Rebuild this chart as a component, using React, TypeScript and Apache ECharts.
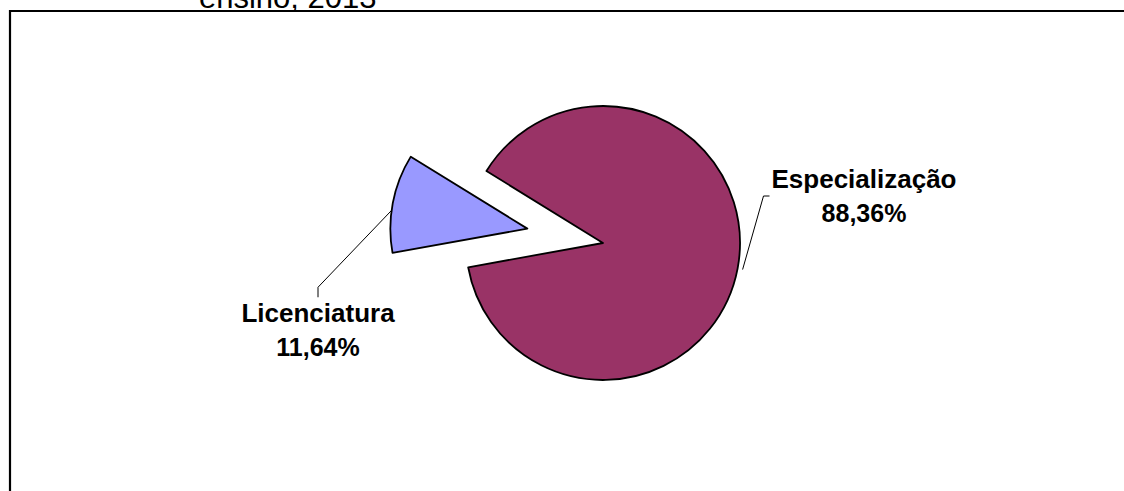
import React, { useEffect, useRef } from "react";
import * as echarts from "echarts";

const categories = ["Especialização", "Licenciatura"];
const values = [88.36, 11.64];
const sliceColors = ["#993366", "#9999FF"];
const titleText = "ensino, 2013";

export default function App() {
  const ref = useRef<HTMLDivElement>(null);

  useEffect(() => {
    const chart = echarts.init(ref.current!, null, { renderer: "svg" });
    const center = [603, 243];
    const radius = 137;
    const startAngle = 148.3;
    const explode = 77;
    const total = values.reduce((a, b) => a + b, 0);
    const licSpan = (values[1] / total) * 360;
    const licMid = ((startAngle + licSpan / 2) * Math.PI) / 180;
    const centerB = [
      center[0] + explode * Math.cos(licMid),
      center[1] - explode * Math.sin(licMid),
    ];
    const labelPos = [
      { x: 864, y: 196 },
      { x: 318, y: 330 },
    ];
    const fmt = (p: any) =>
      `{n|${p.name}}\n{p|${p.percent.toFixed(2).replace(".", ",")}%}`;

    const font = "Liberation Sans, Arial, sans-serif";
    const hidden = {
      itemStyle: { color: "rgba(0,0,0,0)", borderWidth: 0 },
      label: { show: false },
      labelLine: { show: false },
    };

    const baseSeries = {
      type: "pie",
      radius: radius,
      startAngle: startAngle,
      clockwise: true,
      avoidLabelOverlap: false,
      silent: true,
      emphasis: { disabled: true },
      itemStyle: { borderColor: "#000", borderWidth: 1.8 },
      label: {
        show: true,
        position: "outside",
        formatter: fmt,
        color: "#000",
        fontWeight: "bold",
        fontFamily: font,
        align: "center",
        rich: {
          n: { fontSize: 26, fontWeight: "bold", fontFamily: font, lineHeight: 34, color: "#000" },
          p: { fontSize: 25, fontWeight: "bold", fontFamily: font, lineHeight: 34, color: "#000" },
        },
      },
      labelLine: {
        show: true,
        length: 10,
        length2: 6,
        lineStyle: { color: "#000", width: 1 },
      },
    };

    chart.setOption({
      animation: false,
      backgroundColor: "#fff",
      graphic: [
        {
          type: "rect",
          shape: { x: 10, y: 11, width: 1400, height: 700 },
          style: { fill: "none", stroke: "#000", lineWidth: 2.2 },
          silent: true,
        },
        {
          type: "text",
          x: 199,
          y: -3,
          style: {
            text: titleText,
            fontSize: 31,
            fontFamily: font,
            fill: "#000",
            verticalAlign: "middle",
          },
          silent: true,
        },
      ],
      series: [
        {
          ...baseSeries,
          center: center,
          data: [
            { name: categories[0], value: values[0], itemStyle: { color: sliceColors[0] } },
            { name: categories[1], value: values[1], ...hidden },
          ],
          labelLayout: (params: any) => {
            const { x, y } = labelPos[0];
            const w = params.labelRect.width;
            const left = x - w / 2;
            const p0 = params.labelLinePoints && params.labelLinePoints[0];
            const res: any = { x, y, align: "center", verticalAlign: "middle" };
            if (p0) res.labelLinePoints = [[p0[0] + 5, p0[1] + 1], [left - 8, y], [left - 2, y]];
            return res;
          },
        },
        {
          ...baseSeries,
          center: centerB,
          data: [
            { name: categories[0], value: values[0], ...hidden },
            { name: categories[1], value: values[1], itemStyle: { color: sliceColors[1] } },
          ],
          labelLayout: (params: any) => {
            const { x, y } = labelPos[1];
            const h = params.labelRect.height;
            const top = y - h / 2;
            const p0 = params.labelLinePoints && params.labelLinePoints[0];
            const res: any = { x, y, align: "center", verticalAlign: "middle" };
            if (p0) res.labelLinePoints = [[p0[0] + 1, p0[1] + 5], [x, top - 13], [x, top - 3]];
            return res;
          },
        },
      ],
    });

    return () => chart.dispose();
  }, []);

  return (
    <div
      ref={ref}
      style={{ position: "fixed", left: 0, top: 0, width: 1124, height: 491 }}
    />
  );
}
